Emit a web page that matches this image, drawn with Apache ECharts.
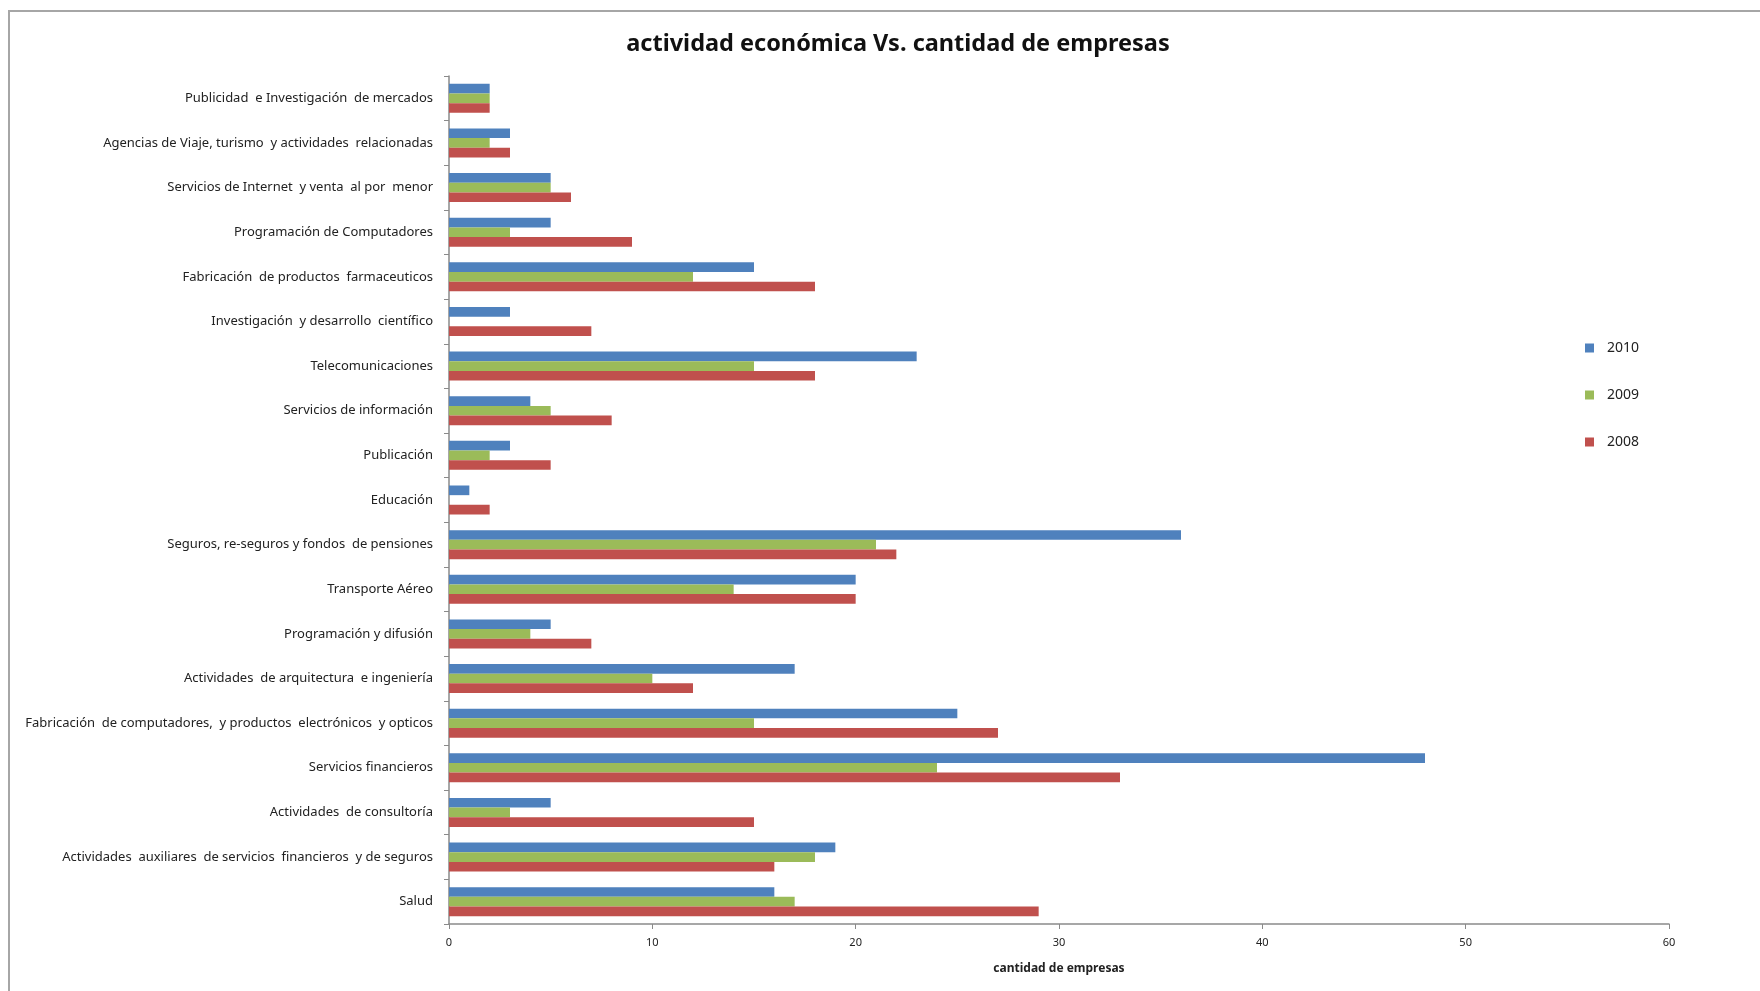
<!DOCTYPE html>
<html>
<head>
<meta charset="utf-8">
<title>actividad económica Vs. cantidad de empresas</title>
<script src="https://cdn.jsdelivr.net/npm/echarts@6/dist/echarts.min.js"></script>
<style>
  html, body { margin: 0; padding: 0; background: #ffffff; }
  #chart { width: 1760px; height: 991px; }
</style>
</head>
<body>
<div id="chart"></div>
<script>
// Economic activities, listed top to bottom as drawn
const categories = [
  'Publicidad  e Investigación  de mercados',
  'Agencias de Viaje, turismo  y actividades  relacionadas',
  'Servicios de Internet  y venta  al por  menor',
  'Programación de Computadores',
  'Fabricación  de productos  farmaceuticos',
  'Investigación  y desarrollo  científico',
  'Telecomunicaciones',
  'Servicios de información',
  'Publicación',
  'Educación',
  'Seguros, re-seguros y fondos  de pensiones',
  'Transporte Aéreo',
  'Programación y difusión',
  'Actividades  de arquitectura  e ingeniería',
  'Fabricación  de computadores,  y productos  electrónicos  y opticos',
  'Servicios financieros',
  'Actividades  de consultoría',
  'Actividades  auxiliares  de servicios  financieros  y de seguros',
  'Salud'
];

// Number of companies per activity and year
const values2010 = [2, 3, 5, 5, 15, 3, 23, 4, 3, 1, 36, 20, 5, 17, 25, 48, 5, 19, 16];
const values2009 = [2, 2, 5, 3, 12, 0, 15, 5, 2, 0, 21, 14, 4, 10, 15, 24, 3, 18, 17];
const values2008 = [2, 3, 6, 9, 18, 7, 18, 8, 5, 2, 22, 20, 7, 12, 27, 33, 15, 16, 29];

const seriesNames = ['2010', '2009', '2008'];
const xTicks = { min: 0, max: 60, interval: 10 };

const chart = echarts.init(document.getElementById('chart'), null, { renderer: 'canvas' });

const axisColor = '#8a8a8a';
const fontFamily = '"Noto Sans", "Open Sans", sans-serif';

function barSeries(name, data, color) {
  return {
    name: name,
    type: 'bar',
    data: data,
    barGap: '0%',
    barCategoryGap: '35%',
    itemStyle: { color: color },
    emphasis: { disabled: true },
    animation: false
  };
}

chart.setOption({
  animation: false,
  textStyle: { fontFamily: fontFamily },
  title: {
    text: 'actividad económica Vs. cantidad de empresas',
    left: 893,
    textAlign: 'center',
    top: 27,
    textStyle: { fontSize: 23.5, fontWeight: 'bold', color: '#111', fontFamily: fontFamily }
  },
  graphic: [{
    type: 'rect',
    silent: true,
    shape: { x: 9, y: 11, width: 1800, height: 1000 },
    style: { fill: 'none', stroke: '#a6a6a6', lineWidth: 2 }
  }],
  legend: {
    orient: 'vertical',
    left: 1580,
    top: 336,
    itemWidth: 9,
    itemHeight: 9,
    itemGap: 33,
    icon: 'rect',
    data: seriesNames,
    textStyle: { fontSize: 14, color: '#222', lineHeight: 14, padding: [0, 0, 0, 8] }
  },
  grid: {
    left: 449,
    right: 91,
    top: 76,
    bottom: 67,
    containLabel: false
  },
  xAxis: {
    type: 'value',
    min: xTicks.min,
    max: xTicks.max,
    interval: xTicks.interval,
    name: 'cantidad de empresas',
    nameLocation: 'middle',
    nameGap: 39,
    nameTextStyle: { fontSize: 12, fontWeight: 'bold', color: '#222' },
    axisLine: { show: true, lineStyle: { color: axisColor, width: 1.5 } },
    axisTick: { show: true, length: 5, lineStyle: { color: axisColor } },
    axisLabel: { fontSize: 11, color: '#222', margin: 13 },
    splitLine: { show: false }
  },
  yAxis: {
    type: 'category',
    data: categories,
    inverse: true,
    axisLine: { show: true, lineStyle: { color: axisColor, width: 1.5 } },
    axisTick: { show: true, length: 5, alignWithLabel: false, lineStyle: { color: axisColor } },
    axisLabel: { fontSize: 13, color: '#222', margin: 16 },
    splitLine: { show: false }
  },
  series: [
    barSeries(seriesNames[0], values2010, '#4F81BD'),
    barSeries(seriesNames[1], values2009, '#9BBB59'),
    barSeries(seriesNames[2], values2008, '#C0504D')
  ]
});
</script>
</body>
</html>
